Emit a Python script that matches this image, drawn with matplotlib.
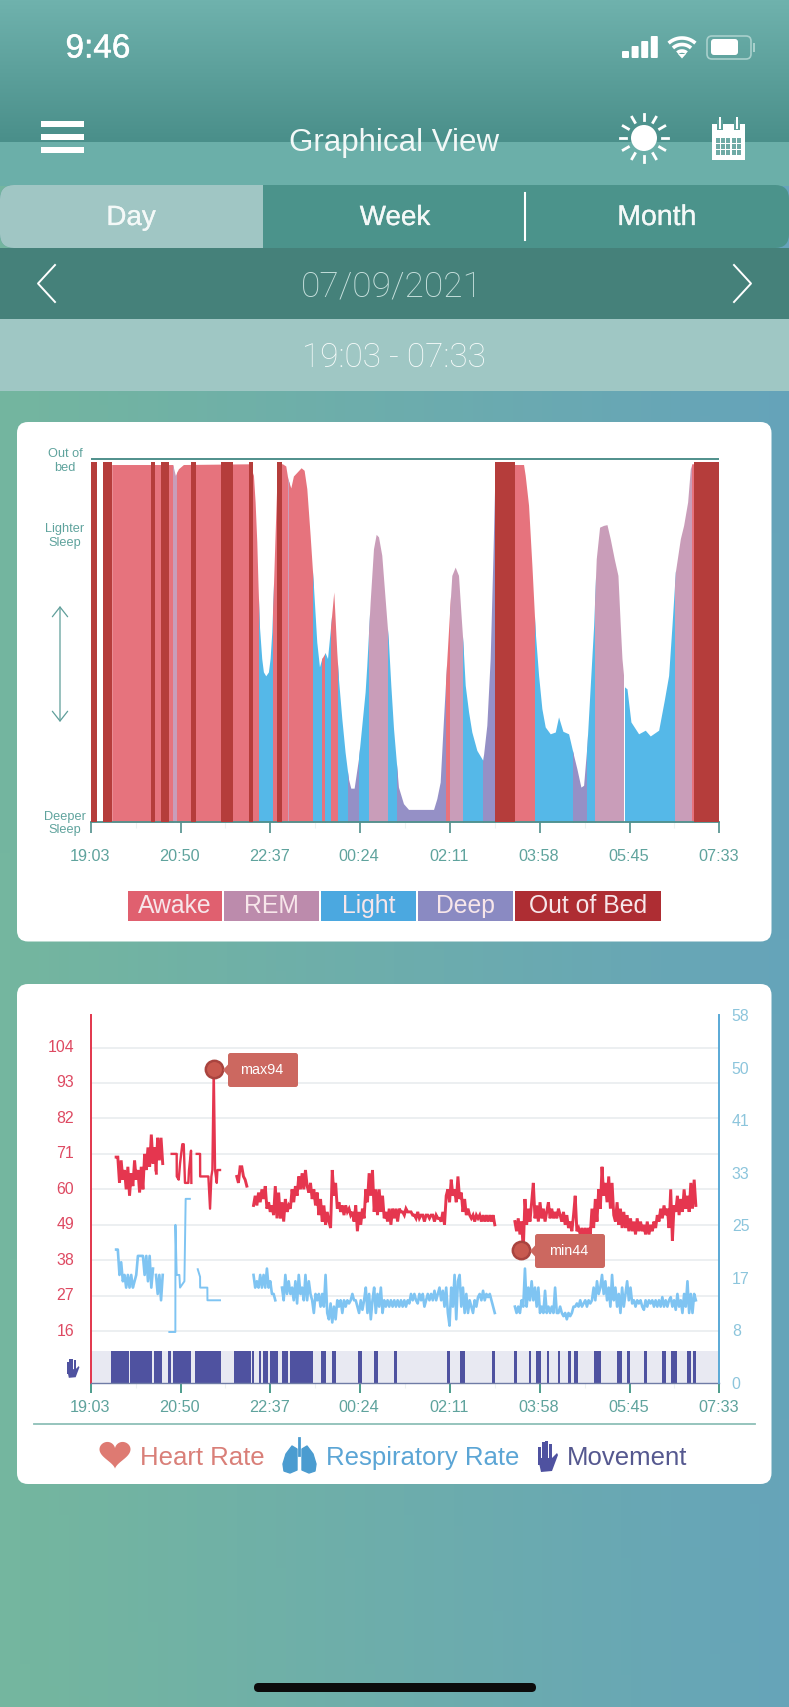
import numpy as np
import matplotlib
matplotlib.use("Agg")
import matplotlib.pyplot as plt
import matplotlib.patheffects as pe
from matplotlib.colors import to_rgb
from matplotlib.patches import Rectangle, FancyBboxPatch, Polygon, Ellipse
from matplotlib.transforms import ScaledTranslation

plt.rcParams['font.family'] = ['Liberation Sans', 'DejaVu Sans']

W, H = 789, 1707
LIGHT = dict(family=['Roboto', 'Liberation Sans'], weight='light')
MEDIUM = [pe.withStroke(linewidth=0.35, foreground='white')]

# time axis, minutes since 19:03
tick_minutes = [0, 107, 214, 321, 429, 536, 643, 750]
tick_labels = ['19:03', '20:50', '22:37', '00:24', '02:11', '03:58', '05:45', '07:33']
minor_minutes = [53.5, 160.5, 267.5, 375, 482.5, 589.5, 696.5]

# sleep depth envelope
depth_t = [24.7, 97.5, 100.7, 104.3, 110.3, 189.1, 193.9, 195.9, 197.9, 199.4, 201, 203.8, 205.8, 208.6, 211.8, 213.8,
           215.8, 217.8, 219.7, 221.7, 222.5, 228.5, 232.5, 234.9, 238.5, 241.6, 250.8, 254.4, 257.6, 261.6, 265.5,
           269.5, 272.7, 275.5, 279.5, 282.3, 285.4, 289.8, 293.4, 295.4, 299.4, 303.3, 307.3, 310.1, 314.1, 319.3,
           327.2, 329.2, 333.2, 337.2, 340.4, 343.2, 347.1, 351.1, 355.1, 357.9, 361.1, 367, 373, 379, 408.9, 412.8,
           416.8, 420.8, 424.8, 428, 430.7, 434.7, 438.7, 441.5, 443.9, 446.7, 450.7, 454.6, 460.6, 467.8, 472.5,
           476.5, 479.7, 482.5, 505.6, 516.3, 518.3, 522.3, 526.3, 530.3, 534.3, 538.2, 542.2, 548.2, 554.2,
           558.1, 563.3, 570.1, 576.1, 580, 584.8, 588, 592, 596, 600, 603.1, 607.1, 611.9, 615.9, 619.8, 624.6, 629,
           631.8, 633.8, 637, 639.8, 644.5, 653.7, 661.6, 667.6, 677.6, 684.3, 689.5, 693.5, 697.5, 703.5, 707.4,
           712.2, 715.4, 717.4, 722]
depth_v = [99.3, 99.3, 96.3, 98.1, 99.3, 99.5, 96.3, 88.9, 77.8, 65.7, 54.6, 45.4, 41.7, 40.6, 41.7, 45.4,
           52.8, 65.7, 79.6, 93.5, 99.5, 99.5, 98.9, 95.4, 92.8, 96.1, 98.4, 97.7, 92.6, 79.6, 65.7,
           50, 43.1, 45.4, 47, 45.4, 52.8, 63.9, 47.2, 39.8, 28.7, 19.4, 12, 9.4, 9.4, 17.6,
           36.1, 43.5, 61.1, 75.9, 79.9, 79.2, 74.1, 62, 50, 38, 26, 9.7, 5.1, 3.5, 3.5, 6.5,
           11.1, 28.7, 45.4, 58.3, 68.5, 70.8, 68.5, 58.3, 50, 38, 30.6, 25, 19.9, 17.1, 26.9,
           45.4, 73.1, 100, 99.3, 99.3, 96.3, 88, 71.3, 52.8, 40.7, 31.5, 26.4, 24.5, 25,
           29.2, 25.2, 24.5, 18.5, 14.8, 9.7, 10.2, 21.3, 38, 54.6, 73.1, 81.9, 82.4, 82.6, 78.7, 73.1, 68.5,
           54.6, 45.4, 37.5, 37, 27.8, 24.5, 25.5, 23.9, 25.5, 33.8, 40.7, 54.6, 69.4, 78.7, 82.4,
           88.9, 98.1, 99.5, 99.5]

stage_names = ['Awake', 'REM', 'Awake', 'Light', 'Awake', 'REM', 'Awake', 'Light', 'Awake', 'Light', 'Awake',
               'Light', 'Deep', 'Light', 'REM', 'Light', 'Deep', 'Awake', 'REM', 'Light', 'Deep', 'Awake',
               'Light', 'Deep', 'Light', 'REM', 'Light', 'REM', 'Awake']
stage_starts = [24.7, 98.3, 102.3, 200.2, 217.8, 234.9, 236.9, 265.5, 275.5, 279.5, 286.6,
                295.4, 306.6, 320.1, 331.3, 355.1, 365.1, 424, 429, 443.9, 467.8, 505.6,
                529.5, 574.8, 592.3, 601.5, 637, 696.6, 717]
stage_ends = [98.3, 102.3, 200.2, 217.8, 234.9, 236.9, 265.5, 275.5, 279.5, 286.6, 295.4,
              306.6, 320.1, 331.3, 355.1, 365.1, 424, 429, 443.9, 467.8, 482.5, 529.5,
              574.8, 592.3, 601.5, 635, 696.6, 717, 722]
oob_starts = [0, 14.7, 71.3, 83.2, 119, 154.9, 189.1, 222.5, 482.5, 720.2]
oob_ends = [6.8, 24.7, 76.4, 93.2, 125, 170, 193.9, 228.5, 505.6, 750.4]

legend_names = ['Awake', 'REM', 'Light', 'Deep', 'Out of Bed']

# heart rate, 2 minute samples unless times are listed
hr_a = [70, 70, 62, 69, 63, 66, 60, 67, 58, 65, 61, 69, 63, 66, 59, 67, 60, 71, 66, 73, 67, 77, 68, 73, 65]
hr_a2 = [66, 76, 69, 76, 68]
hr_b_t = [96.3, 102.3, 102.4, 104.7, 106.3, 109, 110.7, 112.2, 116.2, 117, 119.4, 119.8]
hr_b = [71, 71, 64, 63, 68, 74, 74, 62, 62, 66, 72, 62]
hr_b2_t = [126.2, 130.2, 130.3, 140.1, 142.1, 143.7, 144.9, 146.5, 148.1, 150.1, 150.9, 154]
hr_b2 = [71, 71, 64, 64, 54, 64, 66, 97.3, 66, 62, 66, 66]
hr_c = [64, 62, 67, 67, 64, 63, 61]
hr_d = [55, 58, 55, 59, 56, 60, 57, 61,
        54, 56, 53, 55, 52, 61, 51, 59,
        51, 56, 50, 57, 53, 55, 54,
        60, 56, 61, 58, 64, 60, 65,
        60, 66, 61, 59, 62, 57, 60,
        55, 59, 52, 57, 50, 55, 49,
        53, 50, 48, 66, 58, 62, 54,
        56, 53, 55, 52, 55, 53, 54, 52,
        53, 50, 55, 47, 53, 49, 54,
        51, 60, 56, 65, 58, 66, 53,
        60, 52, 60, 53, 58, 51, 53,
        50, 54, 49, 54, 51, 54, 50,
        54, 53, 53, 52, 54, 53, 53, 53,
        52, 52, 51, 53, 51, 52, 52, 50, 52,
        52, 51, 52, 52, 50, 52, 51, 51, 50, 53,
        49, 58, 60, 56, 63, 58, 60, 56,
        64, 57, 59, 53, 57, 52, 54,
        52, 51, 52, 50, 52, 51, 52, 50,
        52, 50, 52, 50, 52, 50, 52, 49]
hr_e = [50, 47, 51, 46, 50, 41,
        57, 49, 54, 50, 56, 62, 51,
        55, 50, 56, 51, 54, 50, 53,
        56, 51, 54, 51, 53, 51, 54, 52,
        50, 53, 49, 52, 48, 50, 47,
        52, 58, 47, 48, 46, 48, 46, 48,
        46, 48, 46, 54, 48, 57, 50,
        60, 54, 67, 58, 62, 56, 64, 54,
        62, 52, 50, 56, 49, 54, 48,
        53, 48, 52, 47, 51, 47, 50, 46,
        51, 47, 50, 47, 49, 46, 50, 46,
        49, 47, 50, 48, 52, 50, 54, 51,
        55, 52, 54, 48, 60, 44, 55,
        53, 58, 52, 57, 53, 60, 54, 58,
        53, 62, 54, 63, 55]
hr_starts = {'a': 30, 'a2': 77.6, 'c': 174, 'd': 194, 'e': 506}
hr_max_point = (146.5, 97.3)
hr_min_point = (512.8, 41.2)

# respiratory rate
rr_a = [21, 21, 17, 19, 16, 17, 15, 17, 15, 17, 15, 16, 17, 20, 20, 20, 20, 17, 20, 16, 20, 15, 18]
rr_a2 = [17, 14, 17, 13, 17]
rr_b_t = [93.5, 100.7, 100.8, 102.3, 105.5, 106.3, 111.5, 113, 118]
rr_b = [8, 8, 24.9, 17, 17, 15, 16, 29, 29]
rr_b2_t = [127.4, 130.2, 130.3, 138.9, 139, 154]
rr_b2 = [17.9, 16.7, 15, 15, 13, 13]
rr_d = [17, 15, 16, 15, 17, 15, 17, 15, 18, 15, 16, 14, 14, 13]
rr_d2 = [15, 13, 17, 14, 16, 14, 15,
         13, 16, 12.5, 17, 14, 15, 13,
         17, 13, 16, 14, 13, 11, 14,
         13, 14, 12, 14, 12, 17,
         11, 10, 12.5, 9.5, 12, 10, 13,
         12, 13, 11, 13, 12, 13, 12.5, 13,
         14, 13, 13, 12, 11, 13, 11.5,
         13, 15, 11, 14, 10, 13, 15,
         11, 14, 12, 15, 11, 13, 12,
         13, 12, 13, 12, 13, 12, 13, 12, 13, 12, 13, 12,
         13, 12.5, 14, 13, 14, 13, 12.5, 14, 13, 14, 12,
         13, 14, 13, 14, 13, 14.5, 13, 14, 15,
         13, 14.5, 12, 15, 11, 9,
         15, 12, 17, 10, 16, 17, 12, 15,
         11, 14, 11, 13, 12, 11, 13, 12,
         13.5, 14, 13, 14.5, 13, 14, 13.5, 14, 13, 12, 11]
rr_e = [12, 11, 12, 11, 13, 12,
        18, 12, 15, 13, 16, 13, 15,
        12, 15, 11, 12, 11, 14.5, 11,
        12, 11, 12, 11, 15, 11, 11, 12,
        11, 10.5, 11, 10, 11, 10.5, 11, 12,
        12, 12.5, 12, 13, 12, 12.5, 13, 12, 13, 12.5, 13,
        15, 13, 16, 14, 15, 17, 14, 16,
        13, 15, 12, 17, 13, 15, 12, 14,
        11, 15, 12, 14, 16, 13, 15, 12.5,
        13, 12, 13, 12.5, 13, 12, 11.5, 13, 12, 13,
        12.5, 13, 12, 13, 12, 13, 12, 13.5, 12, 13, 12, 13,
        13.5, 12, 13, 11.5, 14, 12, 13, 11, 14,
        12, 16, 11, 14, 11, 14, 13]
rr_starts = {'a': 30, 'a2': 77.6, 'd': 194, 'd2': 228, 'e': 506}

# movement
move_starts = [23.9, 47.0, 75.6, 92.0, 97.5, 124.6, 170.8, 191.9, 201.0, 205.8, 213.8, 228.5, 237.7, 275.1, 287.4,
               318.9, 338.0, 361.9, 424.8, 440.7, 478.5, 505.2, 522.3, 531.5, 543.8, 557.7, 569.7, 576.1, 600.3,
               628.2, 639.4, 659.7, 682.0, 691.9, 711.0, 718.2]
move_ends = [45.4, 72.9, 84.4, 95.1, 119.4, 154.9, 190.7, 194.7, 203.0, 211.8, 223.7, 234.9, 265.5, 280.3, 292.6,
             322.9, 342.0, 365.1, 428.8, 446.3, 482.5, 508.8, 525.5, 537.4, 546.6, 560.1, 572.5, 581.6, 609.1,
             634.2, 643.0, 663.2, 685.9, 699.5, 716.2, 722.2]

hr_ticks = [16, 27, 38, 49, 60, 71, 82, 93, 104]
rr_ticks = [0, 8.29, 16.57, 24.86, 33.14, 41.43, 49.71, 58]
rr_tick_labels = ['0', '8', '17', '25', '33', '41', '50', '58']

stage_colors = {'Awake': '#E6737D', 'REM': '#C99DB9', 'Light': '#55B8E8', 'Deep': '#9590C6'}
legend_colors = ['#E0606F', '#BC8BAC', '#4BA8E0', '#8A8AC2', '#AE2D33']
OOB = '#B53D3B'
TEAL = '#5FA39D'


def px_axes(fig, left, right, top, bottom, **kw):
    return fig.add_axes([left / W, 1 - bottom / H, (right - left) / W, (bottom - top) / H], **kw)


def round_box(ax, x0, y0, x1, y1, r, color, **kw):
    p = FancyBboxPatch((x0 + r, y0 + r), x1 - x0 - 2 * r, y1 - y0 - 2 * r,
                       boxstyle=f"round,pad={r},rounding_size={r}", fc=color, ec='none', **kw)
    ax.add_patch(p)
    return p


def draw_hand(ax, x, y, s, color):
    # x, y = top left corner, s = scale (1 is the big legend hand)
    fingers = [(0, 7, 3.0), (3.6, 2, 3.0), (7.2, 1, 3.0), (10.8, 4, 3.0)]
    for fx, fy, fw in fingers:
        ax.add_patch(Rectangle((x + fx * s, y + fy * s), fw * s, 18 * s, fc=color, ec='none'))
    ax.add_patch(Polygon([(x, y + 18 * s), (x + 14 * s, y + 18 * s), (x + 19 * s, y + 13 * s), (x + 20 * s, y + 15 * s),
                          (x + 14 * s, y + 31 * s), (x + 3 * s, y + 32 * s)], fc=color, ec='none'))


def shift_xlabels(ax, dx_px, fig):
    off = ScaledTranslation(dx_px / fig.dpi, 0, fig.dpi_scale_trans)
    for lab in ax.get_xticklabels():
        lab.set_transform(lab.get_transform() + off)


fig = plt.figure(figsize=(W / 100, H / 100), dpi=100)

# background and header
bg = px_axes(fig, 0, W, 0, H, zorder=0)
bg.set_xlim(0, W)
bg.set_ylim(H, 0)
bg.axis('off')

xx, yy = np.meshgrid(np.linspace(0, 1, 80), np.linspace(0, 1, 160))
t = np.clip(xx * 0.95 + (yy - 0.5) * -0.05, 0, 1)[..., None]
grad = np.array(to_rgb('#74B69F')) * (1 - t) + np.array(to_rgb('#65A3BB')) * t
bg.imshow(grad, extent=[0, W, H, 0], aspect='auto', zorder=0)

tt = np.linspace(0, 1, 64)[:, None, None]
top_grad = np.array(to_rgb('#6FB2AD')) * (1 - tt) + np.array(to_rgb('#4A8F8A')) * tt
bg.imshow(top_grad, extent=[0, W, 142, 0], aspect='auto', zorder=1)
bg.set_xlim(0, W)
bg.set_ylim(H, 0)
bg.add_patch(Rectangle((0, 142), W, 44, fc='#6BAFA9', ec='none', zorder=1))
bg.add_patch(Rectangle((0, 248), W, 71, fc='#45817A', ec='none', zorder=1))
bg.add_patch(Rectangle((0, 319), W, 72, fc='#9FC7C4', ec='none', zorder=1))

seg = round_box(bg, 0, 185, W, 248, 14, '#4B938B', zorder=2)
day = Rectangle((0, 185), 263, 63, fc='#A0C6C4', ec='none', zorder=3)
bg.add_patch(day)
day.set_clip_path(seg)
bg.plot([525, 525], [193, 240], color='white', lw=1.5, zorder=4)

bg.text(98, 49, '9:46', color='white', fontsize=24, ha='center', va='center', zorder=5, path_effects=MEDIUM)
bg.text(394, 143, 'Graphical View', color='#F2F8F7', fontsize=22.5, ha='center', va='center', zorder=5)
for name, cx, fs in [('Day', 131, 20), ('Week', 395, 20), ('Month', 657, 20.5)]:
    bg.text(cx, 218, name, color='#F4F9F8', fontsize=fs, ha='center', va='center', zorder=5,
            path_effects=[pe.withStroke(linewidth=0.2, foreground='#F4F9F8')])
bg.text(391.5, 287, '07/09/2021', color='#C8E1DE', fontsize=25.5, ha='center', va='center', zorder=5, **LIGHT)
bg.text(394, 358, '19:03 - 07:33', color='#F6FBFA', fontsize=24, ha='center', va='center', zorder=5, **LIGHT)

# status icons
for i, h in enumerate([7, 12, 17, 22]):
    round_box(bg, 622 + i * 9.6, 58 - h, 629 + i * 9.6, 58, 1, 'white', zorder=5)
for r in [7, 13.5, 20]:
    a = np.radians(np.linspace(48, 132, 20))
    bg.plot(682 + r * np.cos(a), 58 - r * np.sin(a), color='white', lw=2.6, zorder=5, solid_capstyle='butt')
bg.add_patch(Polygon([(682, 58.5), (678, 54), (686, 54)], fc='white', ec='none', zorder=5))
bat = FancyBboxPatch((709, 38), 40, 19, boxstyle="round,pad=2,rounding_size=5", fc='none', ec='#A8D0CC', lw=1.2, zorder=5)
bg.add_patch(bat)
round_box(bg, 711, 39, 738, 55, 3, 'white', zorder=6)
bg.add_patch(Rectangle((753, 43), 1.8, 9, fc='#A8D0CC', ec='none', zorder=5))

# nav icons
for y0 in [121, 134, 147]:
    bg.add_patch(Rectangle((41, y0), 43, 6, fc='white', ec='none', zorder=5))
bg.add_patch(Ellipse((644, 138), 26, 26, fc='white', ec='none', zorder=5))
for a in np.radians(np.arange(0, 360, 30)):
    bg.plot([644 + 18 * np.cos(a), 644 + 24 * np.cos(a)], [138 + 18 * np.sin(a), 138 + 24 * np.sin(a)],
            color='white', lw=2, zorder=5)
bg.add_patch(Rectangle((712, 124), 33, 36, fc='white', ec='none', zorder=5))
for rx in [720, 737]:
    bg.add_patch(Rectangle((rx - 3, 120), 6, 10, fc='#5E9F99', ec='none', zorder=5))
    bg.add_patch(Rectangle((rx - 1, 117), 2, 12, fc='white', ec='none', zorder=6))
for row in range(3):
    for col in range(5):
        bg.add_patch(Rectangle((716 + col * 5.2, 138 + row * 6.2), 4, 4.6, fc='#6FAAA5', ec='none', zorder=6))

# chevrons
bg.plot([55, 38, 55], [265, 283.5, 302], color='white', lw=1.4, zorder=5)
bg.plot([734, 751, 734], [265, 283.5, 302], color='white', lw=1.4, zorder=5)

# cards and home bar
round_box(bg, 17, 422, 771.5, 941.5, 11, 'white', zorder=2)
round_box(bg, 17, 984, 771.5, 1484, 11, 'white', zorder=2)
round_box(bg, 254, 1683, 536, 1692, 4.5, '#0C0C0C', zorder=2)

# sleep chart
ax = px_axes(fig, 91, 719.3, 456.6, 822, zorder=1)
ax.patch.set_alpha(0)
ax.set_xlim(0, 750)
ax.set_ylim(0, 101.5)
for name, s, e in zip(stage_names, stage_starts, stage_ends):
    poly = ax.fill_between(depth_t, depth_v, 0, color=stage_colors[name], lw=0, zorder=2)
    poly.set_clip_path(Rectangle((s, 0), e - s, 102, transform=ax.transData))
ax.bar(oob_starts, [100] * len(oob_starts), width=np.array(oob_ends) - np.array(oob_starts),
       align='edge', color=OOB, lw=0, zorder=3)
ax.axhline(100.9, color='#4F8F8B', lw=1.4, zorder=4)

for s in ['top', 'right']:
    ax.spines[s].set_visible(False)
ax.spines['left'].set_visible(False)
ax.spines['bottom'].set_color('#4F8F8B')
ax.spines['bottom'].set_linewidth(1.3)
ax.set_yticks([])
ax.set_xticks(tick_minutes)
ax.set_xticklabels(tick_labels)
ax.tick_params(axis='x', length=7.7, width=1.2, color='#4F8F8B', labelcolor=TEAL, labelsize=11.7, pad=11.8)
ax.set_xticks(minor_minutes, minor=True)
ax.tick_params(axis='x', which='minor', length=4, width=0.8, color='#EEF2F2')
shift_xlabels(ax, -1, fig)

for txt, y in [('Out of\nbed', 461), ('Lighter\nSleep', 536), ('Deeper\nSleep', 823.5)]:
    bg.text(65, y, txt, color=TEAL, fontsize=9.2, ha='center', va='center', linespacing=1.2, zorder=5)
bg.annotate('', xy=(60, 606), xytext=(60, 722), zorder=5,
            arrowprops=dict(arrowstyle='<->,head_length=0.7,head_width=0.55', color='#5F9E9A', lw=0.9,
                            shrinkA=0, shrinkB=0))

# legend boxes of the sleep chart, positions in pixels
legend_x = [(128, 222), (224, 319), (321, 416), (418, 513), (515, 661)]
for name, col, (x0, x1) in zip(legend_names, legend_colors, legend_x):
    bg.add_patch(Rectangle((x0, 891), x1 - x0, 30, fc=col, ec='none', zorder=5))
    bg.text((x0 + x1) / 2, 906, name, color='#F7E6EA', fontsize=17.8, ha='center', va='center', zorder=6)

# vitals chart
ax2 = px_axes(fig, 91, 719.3, 1015, 1382.7, zorder=1)
ax2.patch.set_alpha(0)
ax2.set_xlim(0, 750)
ax2.set_ylim(0, 114.1)
ax2.set_yticks(hr_ticks)
ax2.set_yticklabels([str(v) for v in hr_ticks])
ax2.grid(axis='y', color='#ECEFF1', lw=1.4, zorder=0)
ax2.set_axisbelow(True)
ax2.axhspan(0, 9.94, color='#E8E9F2', lw=0, zorder=1)
ax2.bar(move_starts, [9.94] * len(move_starts), width=np.array(move_ends) - np.array(move_starts),
        align='edge', color='#4F52A0', lw=0, zorder=2)


def sampled(values, start):
    return start + 2 * np.arange(len(values))


HR_RED = '#E5364F'
for vals, key in [(hr_a, 'a'), (hr_a2, 'a2'), (hr_c, 'c'), (hr_d, 'd'), (hr_e, 'e')]:
    ax2.plot(sampled(vals, hr_starts[key]), vals, color=HR_RED, lw=2.1, zorder=3, solid_joinstyle='miter')
ax2.plot(hr_b_t, hr_b, color=HR_RED, lw=1.7, zorder=3)
ax2.plot(hr_b2_t, hr_b2, color=HR_RED, lw=1.7, zorder=3)
for px_, py_ in [hr_max_point, hr_min_point]:
    ax2.plot(px_, py_, 'o', ms=12.5, mfc='#C8594F', mec='#A9443F', mew=1.8, zorder=5)

ax2.spines['top'].set_visible(False)
ax2.spines['right'].set_visible(False)
ax2.spines['left'].set_color('#E2364C')
ax2.spines['left'].set_linewidth(1.4)
ax2.spines['bottom'].set_color('#6F7CA6')
ax2.spines['bottom'].set_linewidth(1)
ax2.set_xticks(tick_minutes)
ax2.set_xticklabels(tick_labels)
ax2.tick_params(axis='x', length=7.2, width=1.2, color='#2E8B78', labelcolor=TEAL, labelsize=11.7, pad=5)
ax2.tick_params(axis='y', length=0, labelcolor='#DE4A62', labelsize=11.4, pad=12)
ax2.set_xticks(minor_minutes, minor=True)
ax2.tick_params(axis='x', which='minor', length=3.5, width=0.8, color='#EEF2F2')
shift_xlabels(ax2, -1, fig)
off_up = ScaledTranslation(0, 1.5 / fig.dpi, fig.dpi_scale_trans)
for lab in ax2.get_yticklabels():
    lab.set_transform(lab.get_transform() + off_up)

rr = ax2.twinx()
rr.patch.set_alpha(0)
rr.set_ylim(0, 58)
RR_BLUE = '#7FC4F2'
for vals, key in [(rr_a, 'a'), (rr_a2, 'a2'), (rr_d, 'd'), (rr_d2, 'd2'), (rr_e, 'e')]:
    rr.plot(sampled(vals, rr_starts[key]), vals, color=RR_BLUE, lw=1.9, zorder=3)
rr.plot(rr_b_t, rr_b, color=RR_BLUE, lw=1.4, zorder=3)
rr.plot(rr_b2_t, rr_b2, color=RR_BLUE, lw=1.4, zorder=3)
rr.set_yticks(rr_ticks)
rr.set_yticklabels(rr_tick_labels)
rr.tick_params(axis='y', length=0, labelcolor='#8CC5DC', labelsize=11.4, pad=9)
for s in ['top', 'left', 'bottom']:
    rr.spines[s].set_visible(False)
rr.spines['right'].set_color('#5AA9D6')
rr.spines['right'].set_linewidth(1.4)

# overlay for tooltips and legend icons
ov = px_axes(fig, 0, W, 0, H, zorder=3)
ov.patch.set_alpha(0)
ov.set_xlim(0, W)
ov.set_ylim(H, 0)
ov.axis('off')

for x0, y0, txt in [(228, 1053, 'max94'), (535, 1234, 'min44')]:
    round_box(ov, x0, y0, x0 + 70, y0 + 34, 2.5, '#CC6860')
    ov.add_patch(Polygon([(x0 + 0.5, y0 + 11), (x0 - 5, y0 + 17), (x0 + 0.5, y0 + 23)], fc='#CC6860', ec='none'))
    ov.text(x0 + 34, y0 + 17, txt, color='white', fontsize=10.4, ha='center', va='center')

draw_hand(ov, 67, 1358, 0.62, '#4F52A0')
ov.plot([34, 755], [1424, 1424], color='#8DBFB8', lw=1.3)

a = np.linspace(0, 2 * np.pi, 80)
ov.add_patch(Polygon(np.c_[115 + 0.97 * 16 * np.sin(a) ** 3,
                           1453 - 0.93 * (13 * np.cos(a) - 5 * np.cos(2 * a) - 2 * np.cos(3 * a) - np.cos(4 * a))],
                     fc='#DE7A72', ec='none'))
ov.text(140, 1458, 'Heart Rate', color='#D97F78', fontsize=18.5, ha='left', va='center')

LUNG = '#4B9CD0'
left_lobe = [(297, 1449), (297, 1470), (290, 1473), (284, 1471), (283, 1464), (286, 1454), (292, 1446)]
ov.add_patch(Polygon(left_lobe, fc=LUNG, ec=LUNG, lw=1, joinstyle='round'))
ov.add_patch(Polygon([(2 * 299.5 - x, y) for x, y in left_lobe], fc=LUNG, ec=LUNG, lw=1, joinstyle='round'))
ov.plot([299.5, 299.5], [1438, 1455], color=LUNG, lw=2)
ov.text(326, 1458, 'Respiratory Rate', color='#5BA5D5', fontsize=18.5, ha='left', va='center')

draw_hand(ov, 538, 1440, 1.0, '#4F52A0')
ov.text(567, 1458, 'Movement', color='#55588F', fontsize=18.5, ha='left', va='center')

fig.savefig('out.png', dpi=100)
